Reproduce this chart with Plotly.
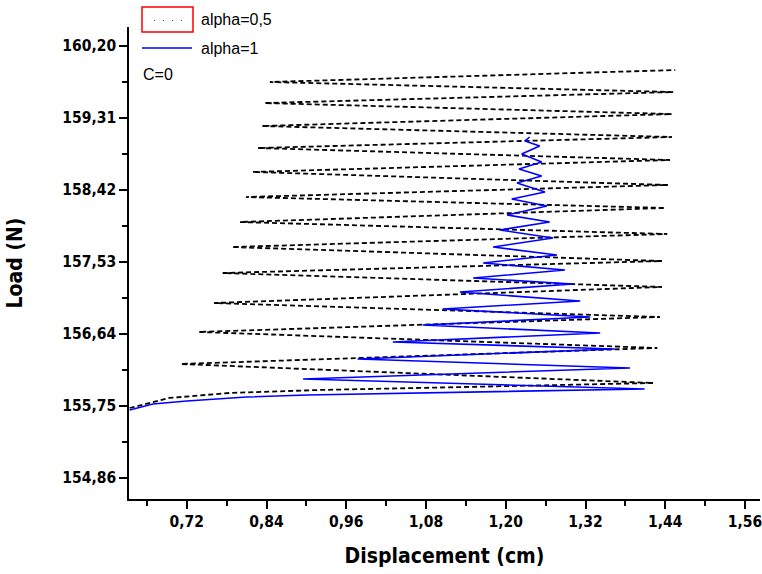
import plotly.graph_objects as go

# ---- data ----
# alpha = 0.5 (dashed black): turning points of the oscillation
dash_x = [0.634, 0.694, 0.785, 0.920, 1.071, 1.422, 0.711, 1.428, 0.738, 1.432, 0.761,
          1.435, 0.774, 1.435, 0.788, 1.443, 0.800, 1.440, 0.809, 1.444, 0.819, 1.447,
          0.827, 1.450, 0.833, 1.450, 0.837, 1.452, 0.845, 1.455]
dash_y = [155.725, 155.849, 155.911, 155.948, 155.973, 156.034, 156.269, 156.467, 156.665,
          156.850, 157.023, 157.221, 157.394, 157.542, 157.715, 157.876, 158.024, 158.198,
          158.333, 158.482, 158.643, 158.791, 158.939, 159.075, 159.211, 159.359, 159.495,
          159.631, 159.755, 159.903]

# alpha = 1 (solid blue)
solid_x = [0.634, 0.669, 0.720, 0.810, 0.901, 0.985, 1.120, 1.271, 1.409, 0.895, 1.387,
           0.977, 1.364, 1.030, 1.342, 1.075, 1.327, 1.105, 1.312, 1.131, 1.301, 1.151,
           1.289, 1.166, 1.277, 1.181, 1.271, 1.191, 1.266, 1.202, 1.262, 1.209, 1.259,
           1.217, 1.254, 1.220, 1.254, 1.224, 1.251, 1.229, 1.236]
solid_y = [155.701, 155.775, 155.812, 155.861, 155.886, 155.898, 155.911, 155.935, 155.960,
           156.084, 156.220, 156.331, 156.455, 156.541, 156.652, 156.751, 156.850, 156.949,
           157.048, 157.159, 157.258, 157.332, 157.431, 157.518, 157.617, 157.715, 157.827,
           157.926, 158.024, 158.111, 158.222, 158.309, 158.395, 158.507, 158.593, 158.680,
           158.766, 158.865, 158.964, 159.026, 159.075]

series_names = ["alpha=0,5", "alpha=1"]
note_text = "C=0"

y_ticks = [154.86, 155.75, 156.64, 157.53, 158.42, 159.31, 160.20]
y_labels = ["154,86", "155,75", "156,64", "157,53", "158,42", "159,31", "160,20"]
y_minor = [155.305, 156.195, 157.085, 157.975, 158.865, 159.755]
x_ticks = [0.72, 0.84, 0.96, 1.08, 1.20, 1.32, 1.44, 1.56]
x_labels = ["0,72", "0,84", "0,96", "1,08", "1,20", "1,32", "1,44", "1,56"]
x_minor = [0.66, 0.78, 0.90, 1.02, 1.14, 1.26, 1.38, 1.50]

# ---- layout geometry (pixels) ----
W, H = 762, 574
L, R, T, B = 129, 2, 27, 75
PW, PH = W - L - R, H - T - B


def px(x):
    return (x - L) / PW


def py(y):
    return (H - B - y) / PH


fig = go.Figure()
fig.add_trace(go.Scatter(x=dash_x, y=dash_y, mode="lines", name=series_names[0],
                         line=dict(color="black", width=1.8, dash="5px,3px"),
                         showlegend=False))
fig.add_trace(go.Scatter(x=solid_x, y=solid_y, mode="lines", name=series_names[1],
                         line=dict(color="#0000ff", width=1.6),
                         showlegend=False))

narrow = "DejaVu Sans Condensed, Liberation Sans Narrow, Arial Narrow, sans-serif"
tick_font = dict(family=narrow, size=15.5, color="black", weight="bold")
title_font = dict(family=narrow, size=21, color="black", weight="bold")

fig.update_xaxes(range=[0.633, 1.5826], tickvals=x_ticks, ticktext=x_labels,
                 ticks="outside", ticklen=8, tickwidth=1.5, tickcolor="black",
                 showline=True, linecolor="black", linewidth=1.5, showgrid=False,
                 zeroline=False, tickfont=tick_font, ticklabeloverflow="allow",
                 automargin=False,
                 minor=dict(tickvals=x_minor, ticks="outside", ticklen=5,
                            tickwidth=1.5, tickcolor="black", showgrid=False),
                 title=dict(text="Displacement (cm)", font=title_font, standoff=18))
fig.update_yaxes(range=[154.600, 160.435], tickvals=y_ticks, ticktext=y_labels,
                 ticks="outside", ticklen=8, tickwidth=1.5, tickcolor="black",
                 showline=True, linecolor="black", linewidth=1.5, showgrid=False,
                 zeroline=False, tickfont=tick_font, ticklabeloverflow="allow",
                 minor=dict(tickvals=y_minor, ticks="outside", ticklen=5,
                            tickwidth=1.5, tickcolor="black", showgrid=False),
                 title=dict(text="Load (N)", font=title_font, standoff=34))

legend_font = dict(family="Liberation Sans, Arial, sans-serif", size=16, color="black")

shapes = [
    dict(type="rect", xref="paper", yref="paper", x0=px(142), x1=px(193), y0=py(32), y1=py(7),
         line=dict(color="red", width=1.5)),
    dict(type="line", xref="paper", yref="paper", x0=px(154), x1=px(190), y0=py(20.5), y1=py(20.5),
         line=dict(color="#555555", width=1.2, dash="1px,8px")),
    dict(type="line", xref="paper", yref="paper", x0=px(142), x1=px(192), y0=py(48), y1=py(48),
         line=dict(color="#0000ff", width=1.4)),
]
annotations = [
    dict(text=series_names[0], xref="paper", yref="paper", x=px(199), y=py(20),
         xanchor="left", yanchor="middle", showarrow=False, font=legend_font),
    dict(text=series_names[1], xref="paper", yref="paper", x=px(199), y=py(48),
         xanchor="left", yanchor="middle", showarrow=False, font=legend_font),
    dict(text=note_text, xref="paper", yref="paper", x=px(141), y=py(75),
         xanchor="left", yanchor="middle", showarrow=False, font=legend_font),
]

fig.update_layout(width=W, height=H, margin=dict(l=L, r=R, t=T, b=B),
                  paper_bgcolor="white", plot_bgcolor="white",
                  shapes=shapes, annotations=annotations, showlegend=False)

fig.write_html("out.html")
